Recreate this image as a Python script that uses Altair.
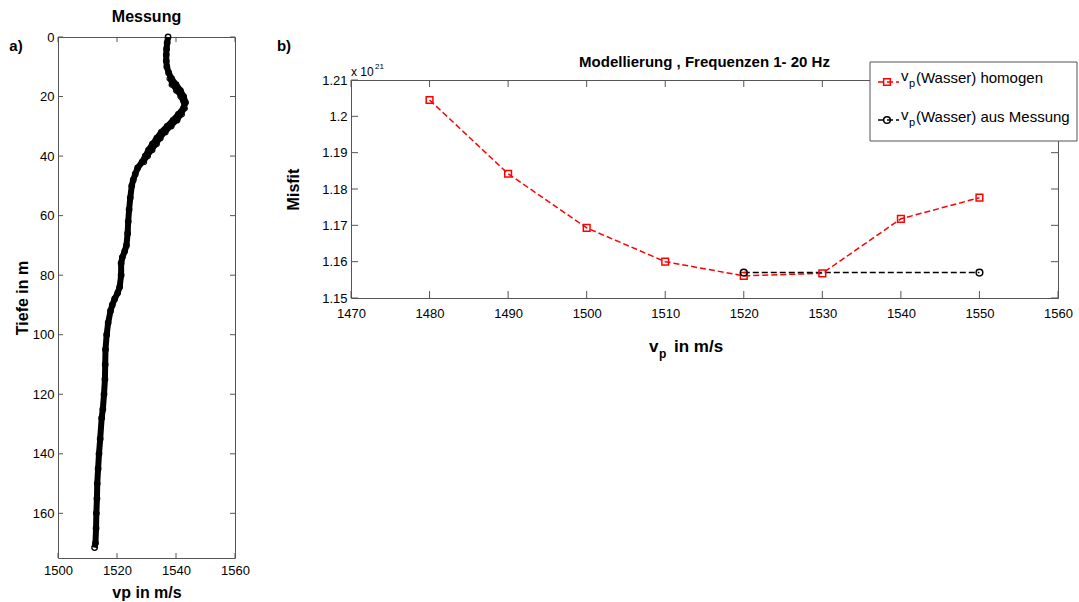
import altair as alt
import pandas as pd

# ---- panel a): measured velocity profile ----
depth = [0, 2, 4, 6, 8, 10, 12, 14, 16, 18, 20, 22, 24, 26, 28, 30, 32, 34, 36, 38,
         40, 42, 44, 46, 48, 50, 54, 58, 62, 66, 70, 72, 74, 76, 80, 84, 86, 88, 90,
         92, 96, 100, 105, 110, 115, 120, 125, 128, 135, 140, 145, 150, 155, 160,
         165, 170, 171.5]
vp = [1537.3, 1537.0, 1536.8, 1536.7, 1536.7, 1536.9, 1537.5, 1538.5, 1540.0, 1541.5,
      1542.6, 1543.2, 1542.5, 1540.8, 1539.0, 1537.0, 1535.0, 1533.5, 1532.0, 1530.7,
      1529.6, 1528.5, 1527.0, 1526.2, 1525.5, 1525.0, 1524.5, 1524.1, 1523.8, 1523.6,
      1523.2, 1522.6, 1521.8, 1521.4, 1521.4, 1520.9, 1520.2, 1519.2, 1518.4, 1517.8,
      1517.0, 1516.5, 1516.1, 1516.0, 1515.9, 1515.6, 1515.2, 1514.8, 1514.3, 1513.9,
      1513.6, 1513.3, 1513.2, 1513.0, 1512.9, 1512.7, 1512.4]
# second (return) strand of the profile
depth2 = [14, 16, 18, 20, 24, 26, 28, 30, 32, 34, 36, 38, 40, 42]
vp2 = [1537.8, 1538.5, 1540.0, 1541.5, 1543.0, 1542.0, 1540.5, 1538.5, 1536.5,
       1534.8, 1533.5, 1532.0, 1530.5, 1529.2]

xticks_a = [1500, 1520, 1540, 1560]
yticks_a = [0, 20, 40, 60, 80, 100, 120, 140, 160]

# ---- panel b): misfit vs. water velocity ----
vp_test = [1480, 1490, 1500, 1510, 1520, 1530, 1540, 1550]
misfit_homogen = [1.2045, 1.1842, 1.1693, 1.1600, 1.1561, 1.1568, 1.1718, 1.1776]
vp_mess = [1520, 1550]
misfit_mess = [1.1570, 1.1570]

xticks_b = [1470, 1480, 1490, 1500, 1510, 1520, 1530, 1540, 1550, 1560]
yticks_b = [1.15, 1.16, 1.17, 1.18, 1.19, 1.20, 1.21]

FONT = "Liberation Sans"
FRAME = "#555555"
LBL = 13   # tick label size
TTL = 16   # axis title size

W1, H1 = 177, 521
W2, H2 = 707, 218
TL = 5   # inward tick length, panel a
TL2 = 7  # inward tick length, panel b


def axis(**kw):
    return alt.Axis(labelFont=FONT, labelFontSize=LBL, labelColor="black",
                    labelFlush=False, labelOverlap=False,
                    titleFont=FONT, titleFontSize=TTL, titleFontWeight="bold",
                    titleColor="black", domain=False, ticks=False, grid=False, **kw)


def label(text, x, y, size=15, weight="bold", align="center", baseline="middle",
          color="black"):
    return alt.Chart(pd.DataFrame({"t": [text]})).mark_text(
        font=FONT, fontSize=size, fontWeight=weight, align=align,
        baseline=baseline, color=color
    ).encode(text="t:N", x=alt.value(x), y=alt.value(y))


# ---------------- panel a ----------------
xs1 = alt.Scale(domain=[1500, 1560], nice=False, zero=False)
ys1 = alt.Scale(domain=[0, 175], nice=False, zero=False, reverse=True)

prof = pd.DataFrame({"depth": depth, "vp": vp})
prof2 = pd.DataFrame({"depth": depth2, "vp": vp2})

xa = alt.X("vp:Q", scale=xs1,
           axis=axis(values=xticks_a, title="vp in m/s", format="d",
                     labelPadding=6, titlePadding=7))
ya = alt.Y("depth:Q", scale=ys1,
           axis=axis(values=yticks_a, title="Tiefe in m", format="d",
                     labelPadding=4, titlePadding=2))

prof_line = alt.Chart(prof).mark_line(color="black", strokeWidth=6).encode(
    x=xa, y=ya, order="depth:Q")
prof_pts = alt.Chart(prof).mark_point(shape="circle", filled=False, color="black",
                                      size=30, strokeWidth=1.3, opacity=1).encode(
    x=xa, y=ya)
prof2_line = alt.Chart(prof2).mark_line(color="black", strokeWidth=4).encode(
    x=xa, y=ya, order="depth:Q")
prof2_pts = alt.Chart(prof2).mark_point(shape="circle", filled=False, color="black",
                                        size=24, strokeWidth=1.2, opacity=1).encode(
    x=xa, y=ya)

xt_a = pd.DataFrame({"vp": xticks_a})
yt_a = pd.DataFrame({"depth": yticks_a})
ticks_a = [
    alt.Chart(xt_a).mark_rule(color=FRAME).encode(
        x=xa, y=alt.value(H1), y2=alt.value(H1 - TL)),
    alt.Chart(xt_a).mark_rule(color=FRAME).encode(
        x=xa, y=alt.value(0), y2=alt.value(TL)),
    alt.Chart(yt_a).mark_rule(color=FRAME).encode(
        y=ya, x=alt.value(0), x2=alt.value(TL)),
    alt.Chart(yt_a).mark_rule(color=FRAME).encode(
        y=ya, x=alt.value(W1), x2=alt.value(W1 - TL)),
]

panel_a = alt.layer(
    prof_line, prof2_line, prof_pts, prof2_pts, *ticks_a,
    label("Messung", W1 / 2, -20, size=16),
    label("a)", -42, 9, size=15),
).properties(width=W1, height=H1)

# ---------------- panel b ----------------
xs2 = alt.Scale(domain=[1470, 1560], nice=False, zero=False)
ys2 = alt.Scale(domain=[1.15, 1.21], nice=False, zero=False)

hom = pd.DataFrame({"v": vp_test, "m": misfit_homogen})
mes = pd.DataFrame({"v": vp_mess, "m": misfit_mess})

xb = alt.X("v:Q", scale=xs2,
           axis=axis(values=xticks_b, title=None, format="d", labelPadding=9))
yb = alt.Y("m:Q", scale=ys2,
           axis=axis(values=yticks_b, title="Misfit", format=".3~f",
                     labelPadding=4, titlePadding=20))

hom_line = alt.Chart(hom).mark_line(color="#ff0000", strokeWidth=1.5,
                                    strokeDash=[6, 3]).encode(x=xb, y=yb)
hom_pts = alt.Chart(hom).mark_point(shape="square", filled=False, color="#ff0000",
                                    size=45, strokeWidth=1.5, opacity=1).encode(x=xb, y=yb)
mes_line = alt.Chart(mes).mark_line(color="black", strokeWidth=1.5,
                                    strokeDash=[6, 3]).encode(x=xb, y=yb)
mes_pts = alt.Chart(mes).mark_point(shape="circle", filled=False, color="black",
                                    size=45, strokeWidth=1.5, opacity=1).encode(x=xb, y=yb)

xt_b = pd.DataFrame({"v": xticks_b})
yt_b = pd.DataFrame({"m": yticks_b})
ticks_b = [
    alt.Chart(xt_b).mark_rule(color=FRAME).encode(
        x=xb, y=alt.value(H2), y2=alt.value(H2 - TL2)),
    alt.Chart(xt_b).mark_rule(color=FRAME).encode(
        x=xb, y=alt.value(0), y2=alt.value(TL2)),
    alt.Chart(yt_b).mark_rule(color=FRAME).encode(
        y=yb, x=alt.value(0), x2=alt.value(TL2)),
    alt.Chart(yt_b).mark_rule(color=FRAME).encode(
        y=yb, x=alt.value(W2), x2=alt.value(W2 - TL2)),
]

# legend box (upper right, drawn by hand so the subscript can be set)
LX, LW = 519, 207  # left edge and width of the legend box, relative to the plot
LY0, LY1 = -18, 61
box = alt.Chart(pd.DataFrame({"t": [0]})).mark_rect(
    fill="white", stroke=FRAME, strokeWidth=1).encode(
    x=alt.value(LX), x2=alt.value(LX + LW), y=alt.value(LY0), y2=alt.value(LY1))


def leg_line(y, color):
    return alt.Chart(pd.DataFrame({"t": [0]})).mark_rule(
        color=color, strokeWidth=1.5, strokeDash=[6, 3]).encode(
        x=alt.value(LX + 8), x2=alt.value(LX + 29), y=alt.value(y))


def leg_marker(y, shape, color):
    return alt.Chart(pd.DataFrame({"t": [0]})).mark_point(
        shape=shape, filled=False, color=color, size=45, strokeWidth=1.5,
        opacity=1).encode(x=alt.value(LX + 17), y=alt.value(y))


def leg_text(y, text):
    return [
        label("v", LX + 31, y - 1, size=15, weight="normal", align="left",
              baseline="alphabetic"),
        label("p", LX + 39, y + 5, size=11, weight="normal", align="left",
              baseline="alphabetic"),
        label(text, LX + 46, y + 1, size=15, weight="normal", align="left",
              baseline="alphabetic"),
    ]


legend_layers = [
    box,
    leg_line(2, "#ff0000"), leg_marker(2, "square", "#ff0000"),
    *leg_text(2, "(Wasser) homogen"),
    leg_line(40, "black"), leg_marker(40, "circle", "black"),
    *leg_text(41, "(Wasser) aus Messung"),
]

panel_b = alt.layer(
    hom_line, mes_line, hom_pts, mes_pts, *ticks_b,
    label("b)", -67, -34, size=15),
    label("Modellierung , Frequenzen 1-  20 Hz", W2 / 2, -18, size=15),
    label("x 10", 0, -4, size=12, weight="normal", align="left", baseline="alphabetic"),
    label("21", 24, -11, size=8, weight="normal", align="left", baseline="alphabetic"),
    # x-axis title with subscript
    label("v", 298, 272, size=17, align="left", baseline="alphabetic"),
    label("p", 308, 278, size=12, align="left", baseline="alphabetic"),
    label("in m/s", 323, 272, size=17, align="left", baseline="alphabetic"),
    *legend_layers,
).properties(width=W2, height=H2)

# thin empty strip above panel b so that its frame starts lower than panel a's
spacer = alt.Chart(pd.DataFrame({"t": [0]})).mark_rule(opacity=0).encode(
    x=alt.value(0), x2=alt.value(1), y=alt.value(0)
).properties(width=W2, height=1, view=alt.ViewBackground(stroke=None))

chart = alt.hconcat(
    panel_a, alt.vconcat(spacer, panel_b, spacing=0), spacing=26
).properties(
    padding={"left": 8, "top": 8, "right": 0, "bottom": 0}, background="white"
).configure_view(stroke=FRAME, strokeWidth=1)

chart.save("out.html", embed_options={"renderer": "svg", "actions": False})
